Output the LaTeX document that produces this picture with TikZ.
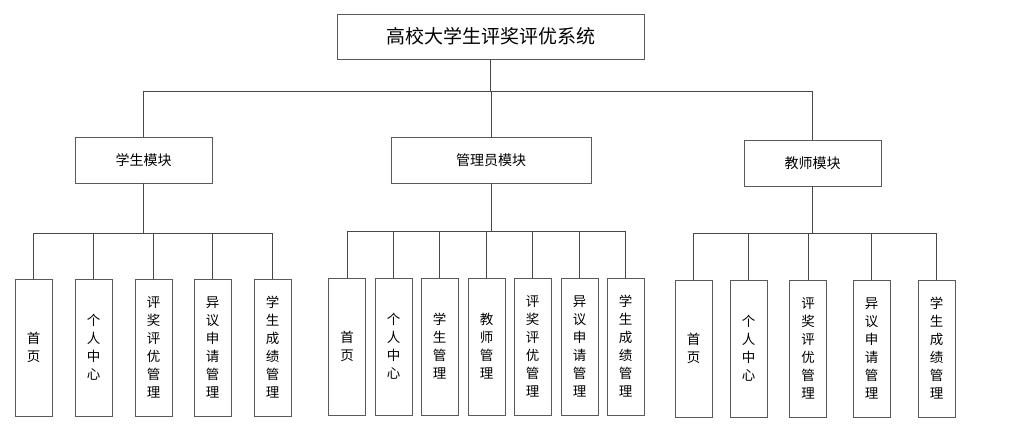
\documentclass[tikz,border=0pt]{standalone}
\usepackage{fontspec}
\setmainfont{Noto Sans CJK SC}
\begin{document}
\begin{tikzpicture}[x=1pt,y=-1pt,
  line width=0.9pt,
  conn/.style={draw=black!72},
  box/.style={draw=black!65, fill=white, inner sep=0pt},
  rootbox/.style={box, minimum width=307pt, minimum height=45pt, font=\fontsize{19}{22}\selectfont},
  modbox/.style={box, minimum width=137pt, minimum height=46pt, font=\fontsize{14}{16}\selectfont},
  leaf/.style={box, minimum width=37pt, minimum height=137pt, align=center, font=\fontsize{13.5}{18}\selectfont}]
\useasboundingbox (0,0) rectangle (1024,428);
\fill[white] (0,0) rectangle (1024,428);
% root and modules
\node[rootbox] (root) at (490.5,36.5) {高校大学生评奖评优系统};
\node[modbox] (stu) at (143.5,160) {学生模块};
\node[modbox, minimum width=200pt] (adm) at (491,160) {管理员模块};
\node[modbox] (tea) at (812.5,163) {教师模块};
\coordinate (bus) at (0,91);
\coordinate (sbus) at (0,233);
\coordinate (abus) at (0,231);
\coordinate (tbus) at (0,233);
% student leaves
\node[leaf] (s1) at (33.5,347.5) {首\\页};
\node[leaf] (s2) at (93.5,347.5) {个\\人\\中\\心};
\node[leaf] (s3) at (153.5,347.5) {评\\奖\\评\\优\\管\\理};
\node[leaf] (s4) at (212.5,347.5) {异\\议\\申\\请\\管\\理};
\node[leaf] (s5) at (272.5,347.5) {学\\生\\成\\绩\\管\\理};
% admin leaves
\node[leaf] (a1) at (347,346.5) {首\\页};
\node[leaf] (a2) at (393.5,346.5) {个\\人\\中\\心};
\node[leaf] (a3) at (439.5,346.5) {学\\生\\管\\理};
\node[leaf] (a4) at (486.5,346.5) {教\\师\\管\\理};
\node[leaf] (a5) at (532.5,346.5) {评\\奖\\评\\优\\管\\理};
\node[leaf] (a6) at (579.5,346.5) {异\\议\\申\\请\\管\\理};
\node[leaf] (a7) at (625.5,346.5) {学\\生\\成\\绩\\管\\理};
% teacher leaves
\node[leaf] (t1) at (693.5,348.5) {首\\页};
\node[leaf] (t2) at (748.5,348.5) {个\\人\\中\\心};
\node[leaf] (t3) at (808,348.5) {评\\奖\\评\\优\\管\\理};
\node[leaf] (t4) at (871.5,348.5) {异\\议\\申\\请\\管\\理};
\node[leaf] (t5) at (936.5,348.5) {学\\生\\成\\绩\\管\\理};
% top connectors
\draw[conn] (stu.north) -- (stu.north |- bus) -- (tea.north |- bus) -- (tea.north);
\draw[conn] (root.south) -- (root.south |- bus);
\draw[conn] (adm.north) -- (adm.north |- bus);
% student connectors
\draw[conn] (stu.south) -- (stu.south |- sbus);
\draw[conn] (s1.north) -- (s1.north |- sbus) -- (s5.north |- sbus) -- (s5.north);
\foreach \n in {s2,s3,s4} \draw[conn] (\n.north) -- (\n.north |- sbus);
% admin connectors
\draw[conn] (adm.south) -- (adm.south |- abus);
\draw[conn] (a1.north) -- (a1.north |- abus) -- (a7.north |- abus) -- (a7.north);
\foreach \n in {a2,a3,a4,a5,a6} \draw[conn] (\n.north) -- (\n.north |- abus);
% teacher connectors
\draw[conn] (tea.south) -- (tea.south |- tbus);
\draw[conn] (t1.north) -- (t1.north |- tbus) -- (t5.north |- tbus) -- (t5.north);
\foreach \n in {t2,t3,t4} \draw[conn] (\n.north) -- (\n.north |- tbus);
\end{tikzpicture}
\end{document}
